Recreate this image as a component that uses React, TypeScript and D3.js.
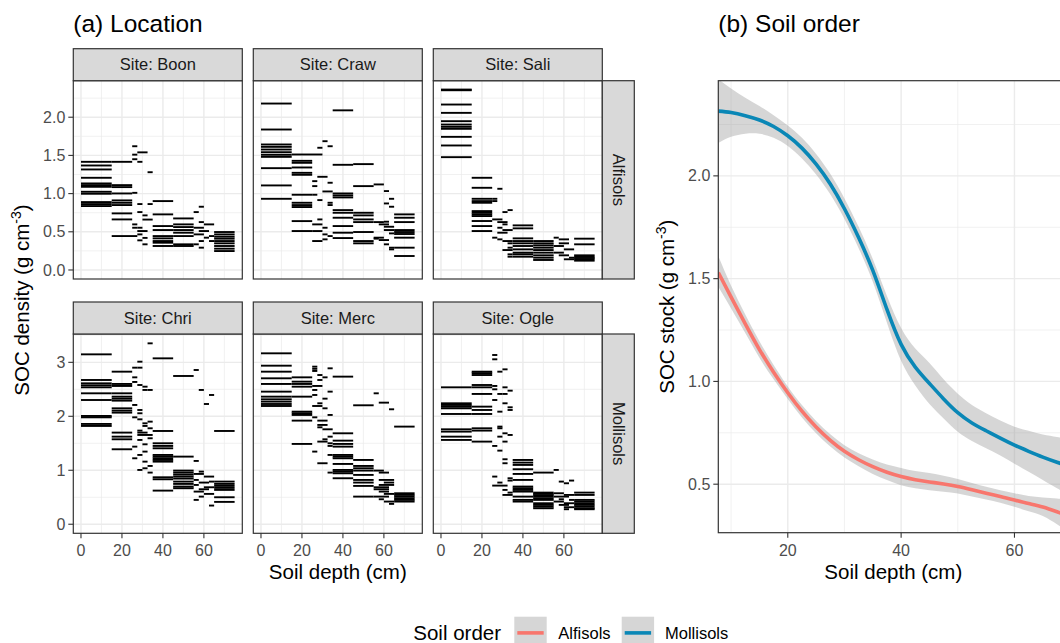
import React from 'react';
import * as d3 from 'd3';

type Group = [number, number, number[]];

// ---------- (a) Location: horizontal depth-interval segments [top, bottom, SOC values] ----------
const boon: Group[] = [
  [0, 15, [1.416, 1.368, 1.316, 1.207, 1.133, 1.111, 1.089, 1.024, 0.998, 0.889, 0.863, 0.837]],
  [15, 25, [1.416, 1.111, 1.085, 1.002, 0.911, 0.88, 0.85, 0.741, 0.662]],
  [15, 27.5, [0.444]],
  [25, 27.5, [1.62, 1.51, 1.45, 1.01, 0.597, 0.553]],
  [27.5, 30, [1.416, 0.863, 0.758, 0.553, 0.466, 0.388]],
  [27.5, 32.5, [1.54, 0.51]],
  [30, 32.5, [0.715, 0.42, 0.336]],
  [30, 35, [0.66]],
  [32.5, 35, [1.28, 0.863]],
  [35, 45, [0.902, 0.728, 0.575, 0.523, 0.444, 0.414, 0.379, 0.357, 0.314]],
  [45, 55, [0.675, 0.597, 0.562, 0.523, 0.488, 0.444, 0.336, 0.314]],
  [55, 57.5, [0.758, 0.336]],
  [55, 60, [0.553, 0.466]],
  [57.5, 60, [0.828, 0.627, 0.379, 0.292]],
  [57.5, 62.5, [0.51]],
  [60, 65, [0.597]],
  [60, 62.5, [0.423]],
  [62.5, 65, [0.444, 0.379]],
  [65, 75, [0.497, 0.466, 0.436, 0.41, 0.379, 0.349, 0.314, 0.279, 0.248]],
];

const craw: Group[] = [
  [0, 15, [2.179, 1.839, 1.643, 1.612, 1.577, 1.542, 1.508, 1.481, 1.333, 1.107, 0.932]],
  [15, 25, [1.429, 1.403, 1.342, 1.272, 1.246, 0.985, 0.88, 0.85, 0.824, 0.64, 0.51]],
  [15, 30, [1.512]],
  [25, 27.5, [1.163, 1.098, 0.985]],
  [25, 30, [0.597, 0.51, 0.379]],
  [27.5, 30, [1.6, 0.915, 0.662]],
  [27.5, 32.5, [1.22]],
  [30, 32.5, [1.686, 0.553, 0.466, 0.401]],
  [30, 35, [1.028]],
  [32.5, 35, [1.62, 1.142, 0.88, 0.85, 0.444]],
  [35, 45, [2.09, 1.377, 1.002, 0.976, 0.95, 0.784, 0.749, 0.684, 0.575, 0.488, 0.418]],
  [45, 55, [1.386, 1.098, 0.749, 0.715, 0.662, 0.627, 0.497, 0.379, 0.349]],
  [55, 60, [1.12, 0.627, 0.423]],
  [55, 57.5, [0.41]],
  [57.5, 62.5, [0.597, 0.392]],
  [60, 62.5, [1.033, 0.871, 0.336, 0.632]],
  [60, 65, [0.566, 0.523]],
  [62.5, 65, [0.932, 0.828, 0.479, 0.292, 0.27]],
  [65, 75, [0.728, 0.684, 0.627, 0.523, 0.497, 0.471, 0.423, 0.292, 0.183]],
];

const sali: Group[] = [
  [0, 15, [2.362, 2.353, 2.166, 2.057, 1.948, 1.904, 1.874, 1.848, 1.743, 1.63, 1.477]],
  [15, 25, [1.207, 1.076, 0.932, 0.902, 0.88, 0.771, 0.749, 0.728, 0.706, 0.641, 0.575, 0.51]],
  [25, 27.5, [0.932, 0.902, 0.423]],
  [25, 30, [0.662]],
  [27.5, 30, [1.063, 0.553, 0.401]],
  [27.5, 32.5, [0.627, 0.488]],
  [30, 32.5, [0.758, 0.597]],
  [30, 35, [0.523, 0.379, 0.261]],
  [32.5, 35, [0.784, 0.349, 0.292, 0.205, 0.174]],
  [35, 45, [0.584, 0.545, 0.414, 0.379, 0.349, 0.314, 0.27, 0.227, 0.205, 0.174]],
  [45, 55, [0.379, 0.349, 0.322, 0.292, 0.261, 0.227, 0.192, 0.161, 0.131]],
  [55, 57.5, [0.423]],
  [57.5, 62.5, [0.401, 0.349, 0.192]],
  [55, 60, [0.314, 0.227]],
  [60, 65, [0.27, 0.14]],
  [62.5, 65, [0.161]],
  [65, 75, [0.41, 0.336, 0.192, 0.174, 0.157, 0.14, 0.122]],
];

const chri: Group[] = [
  [0, 15, [3.148, 2.673, 2.611, 2.574, 2.537, 2.426, 2.302, 2.006, 1.981, 1.858, 1.821]],
  [15, 25, [2.827, 2.599, 2.562, 2.426, 2.364, 2.327, 2.29, 2.148, 2.105, 2.068, 1.698, 1.623, 1.574, 1.389]],
  [25, 27.5, [2.901, 2.722, 2.636, 2.21, 1.981, 1.438, 1.222]],
  [27.5, 30, [3.012, 2.901, 2.58, 2.117, 2.056, 1.944, 1.735, 1.562, 1.284, 1.006]],
  [30, 32.5, [2.549, 2.488, 1.87, 1.821, 1.481, 1.346, 1.16, 1.037]],
  [32.5, 35, [3.352, 2.488, 1.901, 1.778, 1.593, 1.08, 0.957]],
  [27.5, 32.5, [1.698]],
  [27.5, 35, [1.654]],
  [35, 45, [3.074, 1.728, 1.5, 1.451, 1.407, 1.284, 1.253, 1.222, 1.191, 1.16, 0.87, 0.833, 0.623]],
  [45, 55, [2.747, 1.253, 0.994, 0.957, 0.92, 0.883, 0.846, 0.79, 0.747, 0.698, 0.667]],
  [55, 57.5, [2.858, 1.173, 0.821, 0.728, 0.451]],
  [57.5, 60, [2.488, 0.975, 0.512]],
  [55, 60, [0.932, 0.605]],
  [60, 62.5, [2.228]],
  [62.5, 65, [2.395, 0.346, 0.79]],
  [60, 65, [0.883, 0.685, 0.562]],
  [57.5, 62.5, [0.772, 0.648]],
  [65, 75, [1.728, 0.79, 0.747, 0.71, 0.673, 0.636, 0.5, 0.414]],
];

const merc: Group[] = [
  [0, 15, [3.167, 2.938, 2.827, 2.704, 2.599, 2.457, 2.364, 2.315, 2.272, 2.228, 2.191]],
  [15, 25, [2.722, 2.642, 2.599, 2.549, 2.364, 2.086, 2.056, 2.025, 1.92, 1.488]],
  [25, 27.5, [2.92, 2.88, 2.84, 2.488, 2.395, 1.981, 1.346]],
  [25, 30, [2.562, 2.191]],
  [27.5, 30, [2.765, 2.673, 2.241, 1.796]],
  [27.5, 32.5, [1.92, 1.84, 1.531, 1.13]],
  [30, 32.5, [2.722, 2.327, 2.148, 1.574]],
  [30, 35, [1.759]],
  [32.5, 35, [2.889, 2.457, 2.025, 1.623, 1.5, 1.451, 1.284, 0.957]],
  [35, 45, [2.735, 1.685, 1.549, 1.488, 1.438, 1.284, 1.253, 1.222, 1.117, 1.006, 0.975, 0.944, 0.852]],
  [45, 55, [2.204, 1.191, 1.08, 1.037, 0.994, 0.914, 0.821, 0.772, 0.71, 0.512]],
  [55, 57.5, [2.426]],
  [57.5, 62.5, [2.253, 0.957, 0.605]],
  [62.5, 65, [2.13, 0.377]],
  [55, 60, [0.994]],
  [57.5, 65, [0.821, 0.728]],
  [60, 65, [0.772, 0.562, 0.42]],
  [55, 62.5, [0.685, 0.648, 0.512]],
  [57.5, 60, [0.463]],
  [65, 75, [1.809, 0.574, 0.543, 0.512, 0.481, 0.451, 0.42]],
];

const ogle: Group[] = [
  [0, 15, [2.537, 2.241, 2.21, 2.179, 2.148, 2.043, 1.759, 1.716, 1.623, 1.562]],
  [15, 25, [2.827, 2.8, 2.765, 2.58, 2.537, 2.414, 2.179, 2.117, 2.043, 1.778, 1.735, 1.531]],
  [25, 27.5, [3.136, 3.056, 2.562, 2.5, 2.302, 1.451, 0.883]],
  [27.5, 30, [2.827, 2.414, 2.086, 1.809, 1.778, 1.623, 1.364, 0.772]],
  [30, 32.5, [2.87, 2.537, 2.414, 2.241, 1.685, 1.531, 1.204, 1.13, 0.636]],
  [32.5, 35, [2.475, 2.167, 2.117, 1.654, 0.852, 0.809, 0.586]],
  [25, 32.5, [0.716]],
  [30, 35, [0.543]],
  [35, 45, [1.191, 1.142, 1.099, 1.019, 0.932, 0.821, 0.698, 0.667, 0.636, 0.605, 0.512, 0.451, 0.42]],
  [45, 55, [0.957, 0.586, 0.562, 0.537, 0.512, 0.481, 0.451, 0.389, 0.358, 0.327, 0.296]],
  [55, 57.5, [1.006]],
  [57.5, 60, [0.79, 0.463]],
  [60, 62.5, [0.759, 0.278]],
  [62.5, 65, [0.809, 0.451]],
  [55, 60, [0.574, 0.42]],
  [60, 65, [0.543, 0.389, 0.315]],
  [55, 62.5, [0.512]],
  [57.5, 62.5, [0.358]],
  [65, 75, [0.586, 0.543, 0.451, 0.42, 0.389, 0.358, 0.327, 0.296, 0.278]],
];

const siteNames = ['Boon', 'Craw', 'Sali', 'Chri', 'Merc', 'Ogle'];
const siteData = [boon, craw, sali, chri, merc, ogle];
const soilOrders = ['Alfisols', 'Mollisols'];
const depthTicks = [0, 20, 40, 60];
const depthMinor = [10, 30, 50, 70];
const densTicksTop = [0, 0.5, 1, 1.5, 2];
const densMinorTop = [0.25, 0.75, 1.25, 1.75, 2.25];
const densTicksBottom = [0, 1, 2, 3];
const densMinorBottom = [0.5, 1.5, 2.5, 3.5];

// ---------- (b) Soil order: smooth fits with confidence bands ----------
const smoothDepth = [7.74, 10, 12.5, 15, 17.5, 20, 22.5, 25, 27.5, 30, 32.5, 35, 37.5, 40, 42.5, 45, 47.5, 50, 52.5, 55, 57.5, 60, 62.5, 65, 67.5, 69.5];
const molFit = [2.315, 2.308, 2.293, 2.272, 2.24, 2.195, 2.135, 2.057, 1.96, 1.84, 1.7, 1.54, 1.35, 1.18, 1.07, 0.99, 0.915, 0.848, 0.798, 0.76, 0.724, 0.69, 0.66, 0.632, 0.607, 0.588];
const molLo = [2.16, 2.19, 2.205, 2.205, 2.185, 2.145, 2.085, 2.007, 1.91, 1.79, 1.648, 1.485, 1.285, 1.1, 0.98, 0.89, 0.82, 0.755, 0.71, 0.675, 0.64, 0.6, 0.56, 0.52, 0.48, 0.45];
const molHi = [2.47, 2.425, 2.38, 2.34, 2.295, 2.245, 2.185, 2.107, 2.01, 1.89, 1.752, 1.595, 1.415, 1.26, 1.16, 1.09, 1.01, 0.94, 0.885, 0.845, 0.81, 0.78, 0.76, 0.742, 0.73, 0.72];
const alfFit = [1.53, 1.41, 1.28, 1.155, 1.045, 0.945, 0.855, 0.778, 0.713, 0.66, 0.619, 0.585, 0.558, 0.537, 0.522, 0.511, 0.501, 0.489, 0.473, 0.456, 0.44, 0.423, 0.406, 0.389, 0.366, 0.346];
const alfLo = [1.46, 1.355, 1.235, 1.115, 1.01, 0.915, 0.825, 0.748, 0.683, 0.63, 0.587, 0.55, 0.52, 0.495, 0.48, 0.47, 0.463, 0.455, 0.44, 0.425, 0.41, 0.39, 0.368, 0.345, 0.305, 0.27];
const alfHi = [1.61, 1.465, 1.325, 1.195, 1.08, 0.975, 0.885, 0.808, 0.743, 0.69, 0.651, 0.62, 0.596, 0.579, 0.564, 0.554, 0.541, 0.525, 0.506, 0.487, 0.47, 0.456, 0.442, 0.435, 0.43, 0.425];
const stockTicks = [0.5, 1, 1.5, 2];
const stockMinor = [0.75, 1.25, 1.75, 2.25];
const stockDepthTicks = [20, 40, 60];
const stockDepthMinor = [10, 30, 50, 70];
const orderColors = ['#F8766D', '#0A87B6'];

const FONT = "'Liberation Sans', Arial, Helvetica, sans-serif";
const GRID = '#EBEBEB';
const DARK = '#333333';
const TICKTXT = '#4D4D4D';

const colX = [73.3, 253.3, 433.3];
const panelW = 169;
const rowsGeo = [
  { stripTop: 48.7, top: 80.7, bottom: 279, domain: [-0.118, 2.478], ticks: densTicksTop, minor: densMinorTop, fmt: d3.format('.1f') },
  { stripTop: 302, top: 334, bottom: 533.3, domain: [-0.168, 3.525], ticks: densTicksBottom, minor: densMinorBottom, fmt: d3.format('d') },
];
const B = { left: 718.3, right: 1068.3, top: 80.7, bottom: 532.7 };

function Facet({ idx }: { idx: number }) {
  const row = Math.floor(idx / 3);
  const col = idx % 3;
  const g = rowsGeo[row];
  const x0 = colX[col];
  const x = d3.scaleLinear().domain([-3.75, 78.75]).range([x0, x0 + panelW]);
  const y = d3.scaleLinear().domain(g.domain).range([g.bottom, g.top]);
  const segs: [number, number, number][] = [];
  siteData[idx].forEach(([a, b, vals]) => vals.forEach((v) => segs.push([a, b, v])));
  return (
    <g>
      <rect x={x0} y={g.top} width={panelW} height={g.bottom - g.top} fill="#fff" />
      {g.minor.filter((v) => v > g.domain[0] && v < g.domain[1]).map((v) => (
        <line key={'hm' + v} x1={x0} x2={x0 + panelW} y1={y(v)} y2={y(v)} stroke={GRID} strokeWidth={0.7} />
      ))}
      {depthMinor.map((v) => (
        <line key={'vm' + v} x1={x(v)} x2={x(v)} y1={g.top} y2={g.bottom} stroke={GRID} strokeWidth={0.7} />
      ))}
      {g.ticks.map((v) => (
        <line key={'hM' + v} x1={x0} x2={x0 + panelW} y1={y(v)} y2={y(v)} stroke={GRID} strokeWidth={1.4} />
      ))}
      {depthTicks.map((v) => (
        <line key={'vM' + v} x1={x(v)} x2={x(v)} y1={g.top} y2={g.bottom} stroke={GRID} strokeWidth={1.4} />
      ))}
      {segs.map(([a, b, v], i) => (
        <line key={'s' + i} x1={x(a)} x2={x(b)} y1={y(v)} y2={y(v)} stroke="#000" strokeWidth={1.9} />
      ))}
      <rect x={x0} y={g.top} width={panelW} height={g.bottom - g.top} fill="none" stroke={DARK} strokeWidth={1.2} />
      <rect x={x0} y={g.stripTop} width={panelW} height={g.top - g.stripTop} fill="#D9D9D9" stroke={DARK} strokeWidth={1.2} />
      <text x={x0 + panelW / 2} y={(g.stripTop + g.top) / 2} dy="0.35em" textAnchor="middle" fontSize={16.5} fill="#1A1A1A">
        {'Site: ' + siteNames[idx]}
      </text>
      {col === 0 &&
        g.ticks.map((v) => (
          <g key={'yt' + v}>
            <line x1={x0 - 5} x2={x0} y1={y(v)} y2={y(v)} stroke={DARK} strokeWidth={1.1} />
            <text x={x0 - 8} y={y(v)} dy="0.35em" textAnchor="end" fontSize={16} fill={TICKTXT}>
              {g.fmt(v)}
            </text>
          </g>
        ))}
      {row === 1 &&
        depthTicks.map((v) => (
          <g key={'xt' + v}>
            <line x1={x(v)} x2={x(v)} y1={g.bottom} y2={g.bottom + 5} stroke={DARK} strokeWidth={1.1} />
            <text x={x(v)} y={555.5} textAnchor="middle" fontSize={16} fill={TICKTXT}>
              {v}
            </text>
          </g>
        ))}
    </g>
  );
}

export default function App() {
  const xb = d3.scaleLinear().domain([7.74, 69.5]).range([B.left, B.right]);
  const yb = d3.scaleLinear().domain([0.264, 2.463]).range([B.bottom, B.top]);
  const idxs = smoothDepth.map((_, i) => i);
  const series = [
    { fit: alfFit, lo: alfLo, hi: alfHi },
    { fit: molFit, lo: molLo, hi: molHi },
  ];
  const area = (s: { lo: number[]; hi: number[] }) =>
    d3
      .area<number>()
      .x((i) => xb(smoothDepth[i]))
      .y0((i) => yb(s.lo[i]))
      .y1((i) => yb(s.hi[i]))
      .curve(d3.curveNatural)(idxs) || '';
  const line = (f: number[]) =>
    d3
      .line<number>()
      .x((i) => xb(smoothDepth[i]))
      .y((i) => yb(f[i]))
      .curve(d3.curveNatural)(idxs) || '';

  return (
    <svg
      width={1060}
      height={643}
      style={{ position: 'absolute', left: 0, top: 0, display: 'block', background: '#fff' }}
      fontFamily={FONT}
    >
      <rect width={1060} height={643} fill="#fff" />
      <defs>
        <clipPath id="clipB">
          <rect x={B.left} y={B.top} width={B.right - B.left} height={B.bottom - B.top} />
        </clipPath>
      </defs>

      {/* (a) */}
      <text x={73.3} y={32} fontSize={24.5} fill="#000">(a) Location</text>
      {siteNames.map((_, i) => (
        <Facet key={i} idx={i} />
      ))}
      {rowsGeo.map((g, r) => (
        <g key={'rs' + r}>
          <rect x={602.3} y={g.top} width={32} height={g.bottom - g.top} fill="#D9D9D9" stroke={DARK} strokeWidth={1.2} />
          <text
            transform={`translate(${618.3},${(g.top + g.bottom) / 2}) rotate(90)`}
            dy="0.35em"
            textAnchor="middle"
            fontSize={16.5}
            fill="#1A1A1A"
          >
            {soilOrders[r]}
          </text>
        </g>
      ))}
      <text x={337.8} y={579} textAnchor="middle" fontSize={20.5} fill="#000">Soil depth (cm)</text>
      <text transform="translate(22,300) rotate(-90)" dy="0.35em" textAnchor="middle" fontSize={20.5} fill="#000">
        SOC density (g cm
        <tspan fontSize={14} dy={-8}>-3</tspan>
        <tspan dy={8}>)</tspan>
      </text>

      {/* (b) */}
      <text x={718.3} y={32} fontSize={24.5} fill="#000">(b) Soil order</text>
      <rect x={B.left} y={B.top} width={B.right - B.left} height={B.bottom - B.top} fill="#fff" />
      <g clipPath="url(#clipB)">
        {stockMinor.map((v) => (
          <line key={'bm' + v} x1={B.left} x2={B.right} y1={yb(v)} y2={yb(v)} stroke={GRID} strokeWidth={0.7} />
        ))}
        {stockDepthMinor.map((v) => (
          <line key={'bvm' + v} x1={xb(v)} x2={xb(v)} y1={B.top} y2={B.bottom} stroke={GRID} strokeWidth={0.7} />
        ))}
        {stockTicks.map((v) => (
          <line key={'bM' + v} x1={B.left} x2={B.right} y1={yb(v)} y2={yb(v)} stroke={GRID} strokeWidth={1.4} />
        ))}
        {stockDepthTicks.map((v) => (
          <line key={'bvM' + v} x1={xb(v)} x2={xb(v)} y1={B.top} y2={B.bottom} stroke={GRID} strokeWidth={1.4} />
        ))}
        {series.map((s, k) => (
          <g key={'ser' + k}>
            <path d={area(s)} fill="#999999" fillOpacity={0.4} stroke="none" />
            <path d={line(s.fit)} fill="none" stroke={orderColors[k]} strokeWidth={3.6} />
          </g>
        ))}
      </g>
      <rect x={B.left} y={B.top} width={B.right - B.left} height={B.bottom - B.top} fill="none" stroke={DARK} strokeWidth={1.2} />
      {stockTicks.map((v) => (
        <g key={'byt' + v}>
          <line x1={B.left - 5} x2={B.left} y1={yb(v)} y2={yb(v)} stroke={DARK} strokeWidth={1.1} />
          <text x={B.left - 8} y={yb(v)} dy="0.35em" textAnchor="end" fontSize={16} fill={TICKTXT}>
            {d3.format('.1f')(v)}
          </text>
        </g>
      ))}
      {stockDepthTicks.map((v) => (
        <g key={'bxt' + v}>
          <line x1={xb(v)} x2={xb(v)} y1={B.bottom} y2={B.bottom + 5} stroke={DARK} strokeWidth={1.1} />
          <text x={xb(v)} y={555.5} textAnchor="middle" fontSize={16} fill={TICKTXT}>
            {v}
          </text>
        </g>
      ))}
      <text x={(B.left + B.right) / 2} y={579} textAnchor="middle" fontSize={20.5} fill="#000">Soil depth (cm)</text>
      <text transform="translate(667,306.7) rotate(-90)" dy="0.35em" textAnchor="middle" fontSize={20.5} fill="#000">
        SOC stock (g cm
        <tspan fontSize={14} dy={-8}>-3</tspan>
        <tspan dy={8}>)</tspan>
      </text>

      {/* legend */}
      <text x={413.3} y={639.5} fontSize={20.5} fill="#000">Soil order</text>
      {soilOrders.map((o, k) => {
        const kx = [514.3, 621.7][k];
        const lx = [558.3, 665][k];
        return (
          <g key={'lg' + o}>
            <rect x={kx} y={616.7} width={32.4} height={32.4} fill="#D6D6D6" />
            <line x1={kx + 3} x2={kx + 29.4} y1={632.9} y2={632.9} stroke={orderColors[k]} strokeWidth={3.6} />
            <text x={lx} y={632.9} dy="0.35em" fontSize={16.5} fill="#000">{o}</text>
          </g>
        );
      })}
    </svg>
  );
}
